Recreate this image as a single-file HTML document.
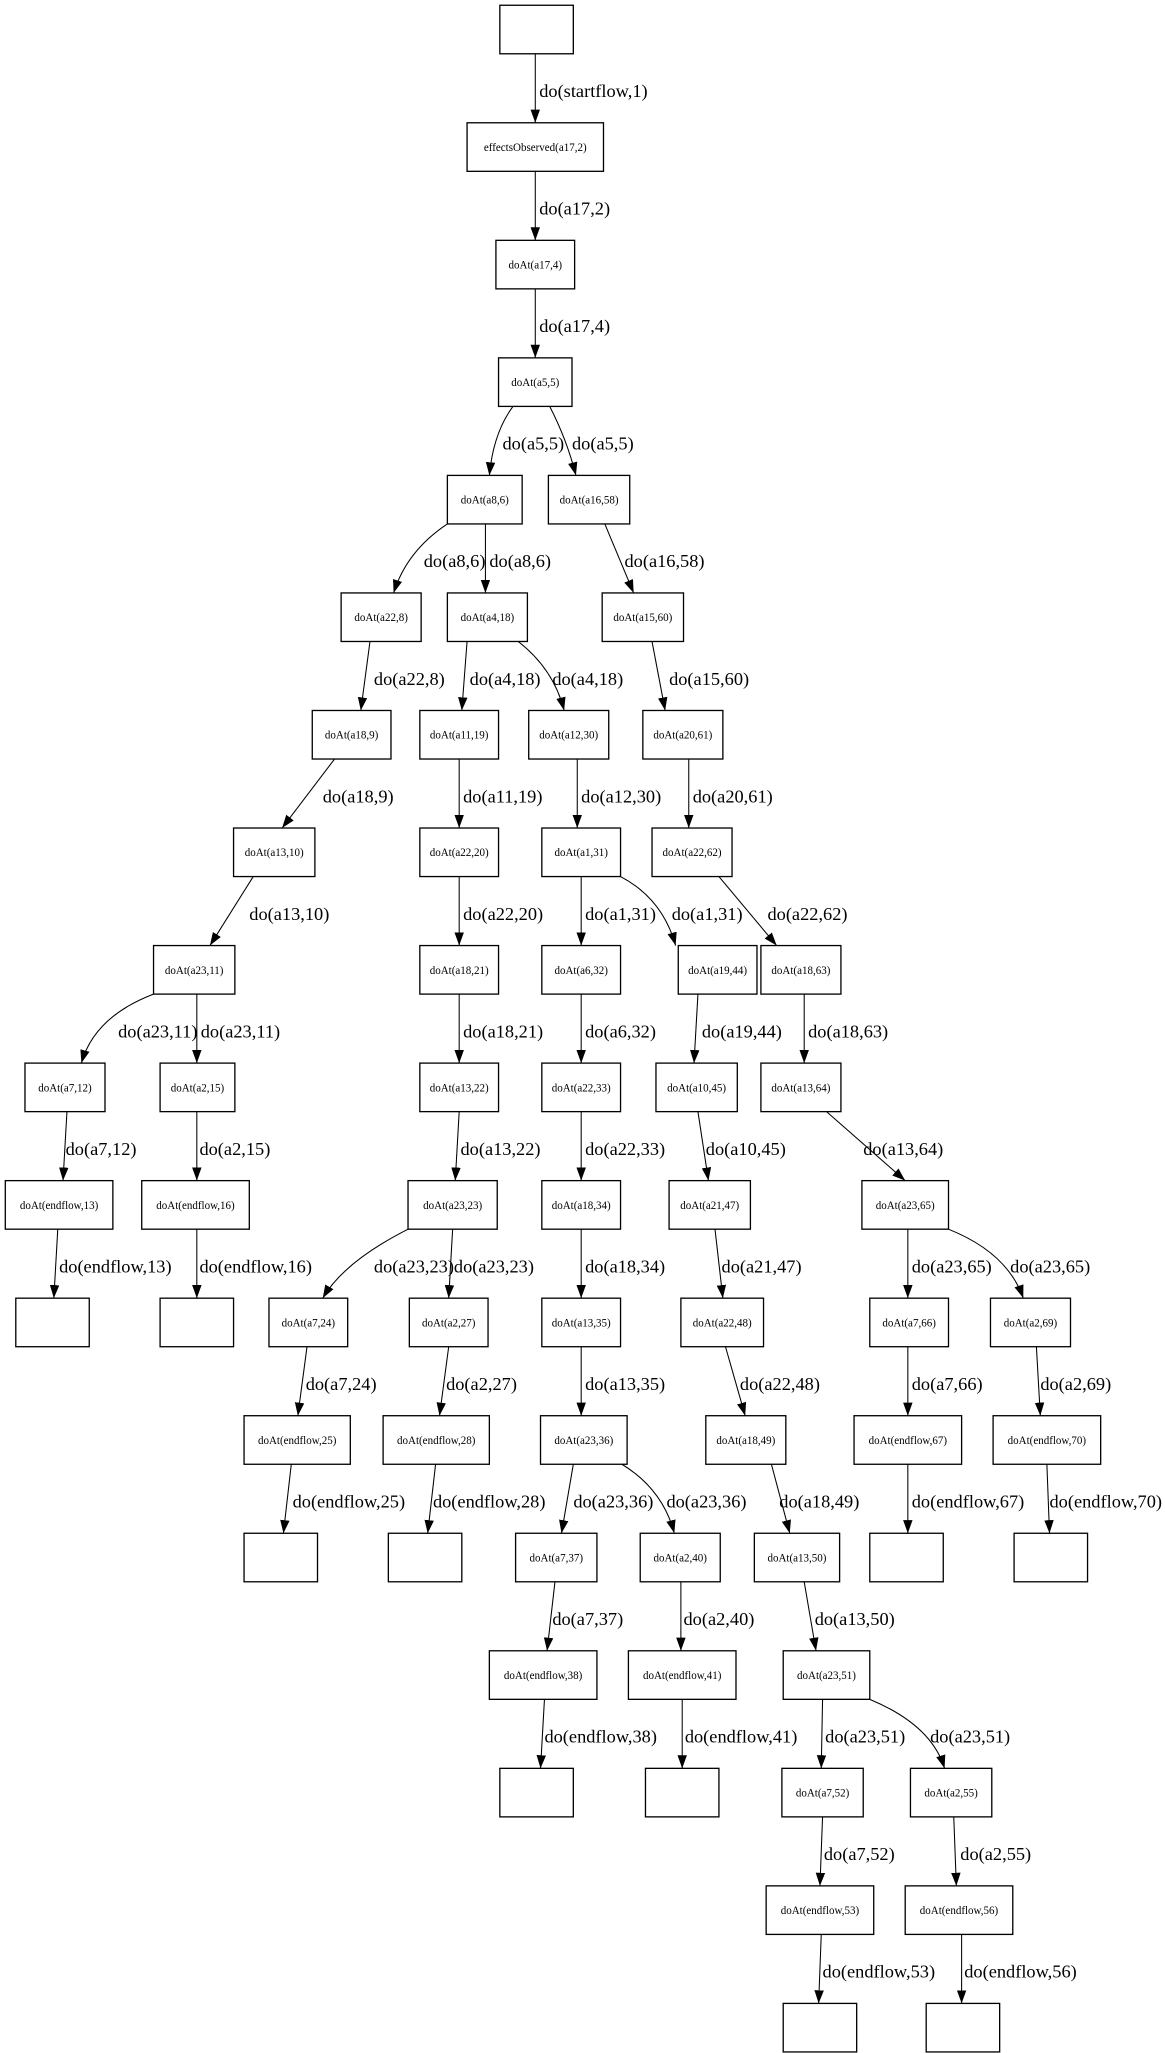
<!DOCTYPE html>
<html><head><meta charset="utf-8"><style>
html,body{margin:0;padding:0;background:#fff;}
svg{display:block;}
.n{font-family:"Liberation Serif",serif;font-size:8.4px;text-anchor:middle;}
.e{font-family:"Liberation Serif",serif;font-size:14px;}
rect{fill:#fff;stroke:#000;stroke-width:1;}
.l{fill:none;stroke:#000;stroke-width:0.8;marker-end:url(#a);}
</style></head><body>
<svg xmlns="http://www.w3.org/2000/svg" width="1165" height="2053" viewBox="0 0 888 1565">
<defs><marker id="a" markerUnits="userSpaceOnUse" markerWidth="11" markerHeight="8" refX="10" refY="3.6" orient="auto"><path d="M0,0 L10,3.6 L0,7.2 z" fill="#000"/></marker></defs>
<!-- nodes -->
<rect x="381" y="4" width="56" height="37"/>
<rect x="356" y="93.6" width="104" height="37"/><text class="n" x="408" y="115">effectsObserved(a17,2)</text>
<rect x="378" y="183.2" width="60" height="37"/><text class="n" x="408" y="204.7">doAt(a17,4)</text>
<rect x="380" y="272.8" width="56" height="37"/><text class="n" x="408" y="294.3">doAt(a5,5)</text>
<rect x="341" y="362.4" width="57" height="37"/><text class="n" x="369.5" y="383.9">doAt(a8,6)</text>
<rect x="418" y="362.4" width="62" height="37"/><text class="n" x="449" y="383.9">doAt(a16,58)</text>
<rect x="260" y="452" width="61" height="37"/><text class="n" x="290.5" y="473.5">doAt(a22,8)</text>
<rect x="341" y="452" width="61" height="37"/><text class="n" x="371.5" y="473.5">doAt(a4,18)</text>
<rect x="459" y="452" width="62" height="37"/><text class="n" x="490" y="473.5">doAt(a15,60)</text>
<rect x="238" y="541.6" width="60" height="37"/><text class="n" x="268" y="563.1">doAt(a18,9)</text>
<rect x="320" y="541.6" width="60" height="37"/><text class="n" x="350" y="563.1">doAt(a11,19)</text>
<rect x="403" y="541.6" width="61" height="37"/><text class="n" x="433.5" y="563.1">doAt(a12,30)</text>
<rect x="490" y="541.6" width="61" height="37"/><text class="n" x="520.5" y="563.1">doAt(a20,61)</text>
<rect x="178" y="631.2" width="62" height="37"/><text class="n" x="209" y="652.7">doAt(a13,10)</text>
<rect x="320" y="631.2" width="60" height="37"/><text class="n" x="350" y="652.7">doAt(a22,20)</text>
<rect x="413" y="631.2" width="60" height="37"/><text class="n" x="443" y="652.7">doAt(a1,31)</text>
<rect x="497" y="631.2" width="61" height="37"/><text class="n" x="527.5" y="652.7">doAt(a22,62)</text>
<rect x="117" y="720.8" width="62" height="37"/><text class="n" x="148" y="742.3">doAt(a23,11)</text>
<rect x="320" y="720.8" width="60" height="37"/><text class="n" x="350" y="742.3">doAt(a18,21)</text>
<rect x="413" y="720.8" width="60" height="37"/><text class="n" x="443" y="742.3">doAt(a6,32)</text>
<rect x="517" y="720.8" width="60" height="37"/><text class="n" x="547" y="742.3">doAt(a19,44)</text>
<rect x="580" y="720.8" width="61" height="37"/><text class="n" x="610.5" y="742.3">doAt(a18,63)</text>
<rect x="19" y="810.4" width="61" height="37"/><text class="n" x="49.5" y="831.9">doAt(a7,12)</text>
<rect x="122" y="810.4" width="57" height="37"/><text class="n" x="150.5" y="831.9">doAt(a2,15)</text>
<rect x="320" y="810.4" width="60" height="37"/><text class="n" x="350" y="831.9">doAt(a13,22)</text>
<rect x="413" y="810.4" width="60" height="37"/><text class="n" x="443" y="831.9">doAt(a22,33)</text>
<rect x="500" y="810.4" width="62" height="37"/><text class="n" x="531" y="831.9">doAt(a10,45)</text>
<rect x="580" y="810.4" width="61" height="37"/><text class="n" x="610.5" y="831.9">doAt(a13,64)</text>
<rect x="4" y="900" width="82" height="37"/><text class="n" x="45" y="921.5">doAt(endflow,13)</text>
<rect x="108" y="900" width="82" height="37"/><text class="n" x="149" y="921.5">doAt(endflow,16)</text>
<rect x="311" y="900" width="68" height="37"/><text class="n" x="345" y="921.5">doAt(a23,23)</text>
<rect x="413" y="900" width="60" height="37"/><text class="n" x="443" y="921.5">doAt(a18,34)</text>
<rect x="510" y="900" width="62" height="37"/><text class="n" x="541" y="921.5">doAt(a21,47)</text>
<rect x="657" y="900" width="66" height="37"/><text class="n" x="690" y="921.5">doAt(a23,65)</text>
<rect x="12" y="989.6" width="56" height="37"/>
<rect x="122" y="989.6" width="56" height="37"/>
<rect x="205" y="989.6" width="60" height="37"/><text class="n" x="235" y="1011.1">doAt(a7,24)</text>
<rect x="312" y="989.6" width="60" height="37"/><text class="n" x="342" y="1011.1">doAt(a2,27)</text>
<rect x="413" y="989.6" width="60" height="37"/><text class="n" x="443" y="1011.1">doAt(a13,35)</text>
<rect x="519" y="989.6" width="63" height="37"/><text class="n" x="550.5" y="1011.1">doAt(a22,48)</text>
<rect x="663" y="989.6" width="60" height="37"/><text class="n" x="693" y="1011.1">doAt(a7,66)</text>
<rect x="755" y="989.6" width="61" height="37"/><text class="n" x="785.5" y="1011.1">doAt(a2,69)</text>
<rect x="186" y="1079.2" width="81" height="37"/><text class="n" x="226.5" y="1100.7">doAt(endflow,25)</text>
<rect x="292" y="1079.2" width="81" height="37"/><text class="n" x="332.5" y="1100.7">doAt(endflow,28)</text>
<rect x="412" y="1079.2" width="66" height="37"/><text class="n" x="445" y="1100.7">doAt(a23,36)</text>
<rect x="538" y="1079.2" width="61" height="37"/><text class="n" x="568.5" y="1100.7">doAt(a18,49)</text>
<rect x="651" y="1079.2" width="82" height="37"/><text class="n" x="692" y="1100.7">doAt(endflow,67)</text>
<rect x="757" y="1079.2" width="82" height="37"/><text class="n" x="798" y="1100.7">doAt(endflow,70)</text>
<rect x="186" y="1168.8" width="56" height="37"/>
<rect x="296" y="1168.8" width="56" height="37"/>
<rect x="393" y="1168.8" width="62" height="37"/><text class="n" x="424" y="1190.3">doAt(a7,37)</text>
<rect x="488" y="1168.8" width="61" height="37"/><text class="n" x="518.5" y="1190.3">doAt(a2,40)</text>
<rect x="575" y="1168.8" width="65" height="37"/><text class="n" x="607.5" y="1190.3">doAt(a13,50)</text>
<rect x="663" y="1168.8" width="56" height="37"/>
<rect x="773" y="1168.8" width="56" height="37"/>
<rect x="373" y="1258.4" width="82" height="37"/><text class="n" x="414" y="1279.9">doAt(endflow,38)</text>
<rect x="479" y="1258.4" width="82" height="37"/><text class="n" x="520" y="1279.9">doAt(endflow,41)</text>
<rect x="597" y="1258.4" width="66" height="37"/><text class="n" x="630" y="1279.9">doAt(a23,51)</text>
<rect x="381" y="1348" width="56" height="37"/>
<rect x="492" y="1348" width="56" height="37"/>
<rect x="596" y="1348" width="62" height="37"/><text class="n" x="627" y="1369.5">doAt(a7,52)</text>
<rect x="694" y="1348" width="62" height="37"/><text class="n" x="725" y="1369.5">doAt(a2,55)</text>
<rect x="584" y="1437.6" width="82" height="37"/><text class="n" x="625" y="1459.1">doAt(endflow,53)</text>
<rect x="690" y="1437.6" width="82" height="37"/><text class="n" x="731" y="1459.1">doAt(endflow,56)</text>
<rect x="597" y="1527.2" width="56" height="37"/>
<rect x="706" y="1527.2" width="56" height="37"/>
<!-- edges -->
<path class="l" d="M408,41 L408,93.6"/><text class="e" x="411" y="74">do(startflow,1)</text>
<path class="l" d="M408,130.6 L408,183.2"/><text class="e" x="411" y="163.6">do(a17,2)</text>
<path class="l" d="M408,220.2 L408,272.8"/><text class="e" x="411" y="253.2">do(a17,4)</text>
<path class="l" d="M391,309.8 Q376,330 373,362.4"/><text class="e" x="383" y="342.8">do(a5,5)</text>
<path class="l" d="M419,309.8 Q432,335 439,362.4"/><text class="e" x="436" y="342.8">do(a5,5)</text>
<path class="l" d="M341,399.4 Q310,420 300,452"/><text class="e" x="323" y="432.4">do(a8,6)</text>
<path class="l" d="M370,399.4 L370,452"/><text class="e" x="373" y="432.4">do(a8,6)</text>
<path class="l" d="M461,399.4 L483,452"/><text class="e" x="476" y="432.4">do(a16,58)</text>
<path class="l" d="M282,489 L275,541.6"/><text class="e" x="285" y="522">do(a22,8)</text>
<path class="l" d="M356,489 L352,541.6"/><text class="e" x="358" y="522">do(a4,18)</text>
<path class="l" d="M395,489 Q422,510 430,541.6"/><text class="e" x="421" y="522">do(a4,18)</text>
<path class="l" d="M497,489 L507,541.6"/><text class="e" x="510" y="522">do(a15,60)</text>
<path class="l" d="M255,578.6 L215,631.2"/><text class="e" x="246" y="611.6">do(a18,9)</text>
<path class="l" d="M350,578.6 L350,631.2"/><text class="e" x="353" y="611.6">do(a11,19)</text>
<path class="l" d="M440,578.6 L440,631.2"/><text class="e" x="443" y="611.6">do(a12,30)</text>
<path class="l" d="M525,578.6 L525,631.2"/><text class="e" x="528" y="611.6">do(a20,61)</text>
<path class="l" d="M193,668.2 L160,720.8"/><text class="e" x="190" y="701.2">do(a13,10)</text>
<path class="l" d="M350,668.2 L350,720.8"/><text class="e" x="353" y="701.2">do(a22,20)</text>
<path class="l" d="M443,668.2 L443,720.8"/><text class="e" x="446" y="701.2">do(a1,31)</text>
<path class="l" d="M473,668.2 Q505,685 515,720.8"/><text class="e" x="512" y="701.2">do(a1,31)</text>
<path class="l" d="M548,668.2 L592,720.8"/><text class="e" x="585" y="701.2">do(a22,62)</text>
<path class="l" d="M117,757.8 Q72,775 62,810.4"/><text class="e" x="90" y="790.8">do(a23,11)</text>
<path class="l" d="M150,757.8 L150,810.4"/><text class="e" x="153" y="790.8">do(a23,11)</text>
<path class="l" d="M350,757.8 L350,810.4"/><text class="e" x="353" y="790.8">do(a18,21)</text>
<path class="l" d="M443,757.8 L443,810.4"/><text class="e" x="446" y="790.8">do(a6,32)</text>
<path class="l" d="M532,757.8 L529,810.4"/><text class="e" x="535" y="790.8">do(a19,44)</text>
<path class="l" d="M613,757.8 L613,810.4"/><text class="e" x="616" y="790.8">do(a18,63)</text>
<path class="l" d="M51,847.4 L48,900"/><text class="e" x="50" y="880.4">do(a7,12)</text>
<path class="l" d="M150,847.4 L150,900"/><text class="e" x="152" y="880.4">do(a2,15)</text>
<path class="l" d="M350,847.4 L347,900"/><text class="e" x="351" y="880.4">do(a13,22)</text>
<path class="l" d="M443,847.4 L443,900"/><text class="e" x="446" y="880.4">do(a22,33)</text>
<path class="l" d="M532,847.4 L540,900"/><text class="e" x="538" y="880.4">do(a10,45)</text>
<path class="l" d="M630,847.4 L690,900"/><text class="e" x="658" y="880.4">do(a13,64)</text>
<path class="l" d="M44,937 L41,989.6"/><text class="e" x="45" y="970">do(endflow,13)</text>
<path class="l" d="M150,937 L150,989.6"/><text class="e" x="152" y="970">do(endflow,16)</text>
<path class="l" d="M311,937 Q262,962 246,989.6"/><text class="e" x="285" y="970">do(a23,23)</text>
<path class="l" d="M345,937 L342,989.6"/><text class="e" x="346" y="970">do(a23,23)</text>
<path class="l" d="M443,937 L443,989.6"/><text class="e" x="446" y="970">do(a18,34)</text>
<path class="l" d="M545,937 L551,989.6"/><text class="e" x="550" y="970">do(a21,47)</text>
<path class="l" d="M692,937 L692,989.6"/><text class="e" x="695" y="970">do(a23,65)</text>
<path class="l" d="M723,937 Q768,955 780,989.6"/><text class="e" x="770" y="970">do(a23,65)</text>
<path class="l" d="M234,1026.6 L227,1079.2"/><text class="e" x="233" y="1059.6">do(a7,24)</text>
<path class="l" d="M342,1026.6 L335,1079.2"/><text class="e" x="340" y="1059.6">do(a2,27)</text>
<path class="l" d="M443,1026.6 L443,1079.2"/><text class="e" x="446" y="1059.6">do(a13,35)</text>
<path class="l" d="M553,1026.6 L568,1079.2"/><text class="e" x="564" y="1059.6">do(a22,48)</text>
<path class="l" d="M692,1026.6 L692,1079.2"/><text class="e" x="695" y="1059.6">do(a7,66)</text>
<path class="l" d="M790,1026.6 L793,1079.2"/><text class="e" x="793" y="1059.6">do(a2,69)</text>
<path class="l" d="M222,1116.2 L216,1168.8"/><text class="e" x="223" y="1149.2">do(endflow,25)</text>
<path class="l" d="M332,1116.2 L326,1168.8"/><text class="e" x="330" y="1149.2">do(endflow,28)</text>
<path class="l" d="M437,1116.2 L428,1168.8"/><text class="e" x="437" y="1149.2">do(a23,36)</text>
<path class="l" d="M474,1116.2 Q505,1135 514,1168.8"/><text class="e" x="508" y="1149.2">do(a23,36)</text>
<path class="l" d="M588,1116.2 L602,1168.8"/><text class="e" x="594" y="1149.2">do(a18,49)</text>
<path class="l" d="M692,1116.2 L692,1168.8"/><text class="e" x="695" y="1149.2">do(endflow,67)</text>
<path class="l" d="M798,1116.2 L800,1168.8"/><text class="e" x="800" y="1149.2">do(endflow,70)</text>
<path class="l" d="M423,1205.8 L417,1258.4"/><text class="e" x="421" y="1238.8">do(a7,37)</text>
<path class="l" d="M519,1205.8 L519,1258.4"/><text class="e" x="521" y="1238.8">do(a2,40)</text>
<path class="l" d="M613,1205.8 L622,1258.4"/><text class="e" x="621" y="1238.8">do(a13,50)</text>
<path class="l" d="M415,1295.4 L412,1348"/><text class="e" x="415" y="1328.4">do(endflow,38)</text>
<path class="l" d="M520,1295.4 L520,1348"/><text class="e" x="522" y="1328.4">do(endflow,41)</text>
<path class="l" d="M627,1295.4 L626,1348"/><text class="e" x="629" y="1328.4">do(a23,51)</text>
<path class="l" d="M663,1295.4 Q710,1315 720,1348"/><text class="e" x="709" y="1328.4">do(a23,51)</text>
<path class="l" d="M627,1385 L625,1437.6"/><text class="e" x="628" y="1418">do(a7,52)</text>
<path class="l" d="M727,1385 L729,1437.6"/><text class="e" x="732" y="1418">do(a2,55)</text>
<path class="l" d="M626,1474.6 L624,1527.2"/><text class="e" x="627" y="1507.6">do(endflow,53)</text>
<path class="l" d="M733,1474.6 L733,1527.2"/><text class="e" x="735" y="1507.6">do(endflow,56)</text>
</svg>
</body></html>
